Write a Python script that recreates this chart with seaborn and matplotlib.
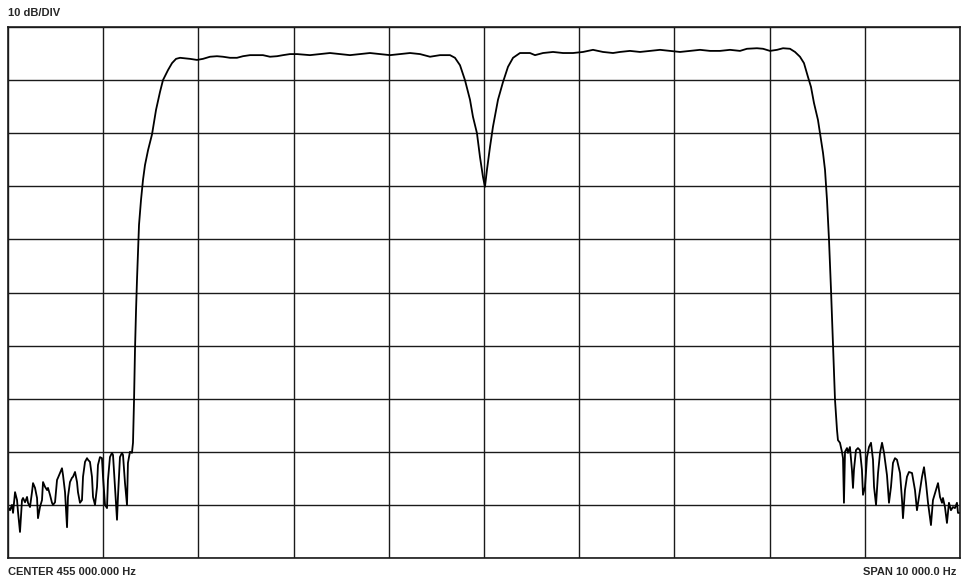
import matplotlib
matplotlib.use("Agg")
import matplotlib.pyplot as plt
import seaborn as sns
import pandas as pd

# Frequency (Hz) and level (dB)
freq_hz = [
    450000, 450021, 450042, 450053, 450074, 450095, 450105, 450126, 450147, 450158,
    450179, 450200, 450210, 450231, 450252, 450263, 450284, 450305, 450315, 450336,
    450357, 450368, 450389, 450410, 450420, 450441, 450462, 450473, 450494, 450515,
    450525, 450546, 450567, 450578, 450599, 450620, 450630, 450651, 450672, 450683,
    450704, 450725, 450735, 450756, 450777, 450788, 450809, 450830, 450840, 450861,
    450882, 450893, 450914, 450935, 450945, 450966, 450987, 450998, 451019, 451040,
    451050, 451071, 451092, 451103, 451124, 451145, 451155, 451176, 451197, 451208,
    451229, 451250, 451260, 451281, 451302, 451313,
    451324, 451334, 451345, 451355, 451366, 451376, 451397, 451418, 451439, 451471,
    451513, 451555, 451597, 451628, 451681, 451723, 451765, 451807,
    451912, 451985, 452048, 452122, 452195, 452258, 452332, 452405, 452468, 452542,
    452615, 452678, 452752, 452826, 452889, 452962, 453036,
    453172, 453277, 453382, 453487, 453592, 453697, 453802, 453907, 454013, 454118,
    454223, 454328, 454433, 454538, 454643, 454695, 454748, 454800, 454853, 454884,
    454926, 454958, 454989, 455010, 455031, 455063, 455094, 455147, 455199, 455252,
    455305, 455378, 455483, 455536, 455620, 455725, 455830, 455935, 456040, 456145,
    456250, 456355, 456428,
    456533, 456639, 456744, 456849, 456954, 457059, 457164, 457269, 457374, 457479,
    457584, 457689, 457762, 457867, 457931, 458004, 458078, 458141, 458214, 458267,
    458319, 458361, 458403, 458435, 458466, 458508, 458529, 458561, 458582, 458603,
    458624, 458645, 458666, 458687, 458708, 458718,
    458739, 458760, 458771, 458781, 458792, 458813, 458823, 458844, 458865, 458876,
    458886, 458907, 458928, 458949, 458970, 458981, 459002, 459023, 459044, 459065,
    459086, 459097, 459118, 459139, 459160, 459181, 459202, 459233, 459254, 459275,
    459296, 459317, 459338, 459370, 459391, 459401, 459422, 459443, 459464, 459496,
    459527, 459548, 459569, 459601, 459622, 459643, 459664, 459695, 459716, 459748,
    459769, 459790, 459811, 459821, 459842, 459863, 459884, 459905, 459926, 459947,
    459968, 459979, 460000,
]
level_db = [
    -90.4, -91.0, -90.0, -91.5, -87.6, -89.1, -91.3, -95.1, -89.1, -88.7,
    -89.5, -88.5, -89.6, -90.4, -87.6, -85.9, -86.8, -88.7, -92.5, -90.4,
    -89.1, -85.7, -86.6, -87.2, -86.8, -88.1, -89.6, -90.0, -89.5, -85.3,
    -84.9, -84.0, -83.1, -84.4, -87.6, -94.2, -88.5, -85.7, -84.9, -84.7,
    -83.8, -85.7, -87.6, -89.6, -89.1, -84.7, -81.9, -81.2, -81.5, -81.9,
    -84.7, -88.5, -90.0, -86.6, -82.5, -81.0, -81.2, -84.7, -90.0, -90.6,
    -85.3, -81.0, -80.2, -80.6, -86.6, -92.8, -88.5, -81.0, -80.2, -80.6,
    -85.9, -90.0, -82.1, -80.0, -80.2, -78.3,
    -70.2, -60.8, -53.3, -47.6, -42.0, -37.3, -32.6, -28.8, -26.0, -23.2,
    -20.2, -15.6, -12.2, -10.0, -8.1, -6.8, -6.0, -5.8,
    -6.0, -6.2, -6.0, -5.6, -5.5, -5.6, -5.8, -5.8, -5.5, -5.3,
    -5.3, -5.3, -5.6, -5.5, -5.3, -5.1, -5.1,
    -5.3, -5.1, -4.9, -5.1, -5.3, -5.1, -4.9, -5.1, -5.3, -5.1,
    -4.9, -5.1, -5.6, -5.3, -5.3, -5.8, -7.2, -10.0, -13.7, -16.9,
    -20.0, -24.5, -28.2, -30.1, -26.9, -22.6, -18.8, -13.7, -10.4, -7.5,
    -5.8, -4.9, -4.9, -5.3, -4.9, -4.7, -4.9, -4.9, -4.7, -4.3,
    -4.7, -4.9, -4.7,
    -4.5, -4.7, -4.5, -4.3, -4.5, -4.7, -4.5, -4.3, -4.5, -4.5,
    -4.3, -4.5, -4.1, -4.0, -4.1, -4.5, -4.3, -4.0, -4.1, -4.7,
    -5.6, -6.8, -9.4, -11.3, -14.3, -17.5, -20.0, -23.7, -26.9, -32.6,
    -40.1, -49.5, -60.1, -70.2, -75.9, -77.8,
    -78.3, -80.0, -81.2, -89.6, -80.0, -79.3, -80.2, -79.1, -83.4, -86.8,
    -83.4, -79.7, -79.3, -79.7, -83.4, -88.1, -86.6, -81.0, -79.1, -78.3,
    -81.5, -86.6, -90.0, -84.0, -80.2, -78.3, -80.2, -84.4, -89.6, -86.6,
    -82.1, -81.2, -81.5, -84.0, -89.1, -92.5, -87.2, -84.7, -83.8, -84.0,
    -87.2, -91.0, -88.5, -84.7, -82.9, -85.9, -89.6, -93.8, -89.1, -87.2,
    -85.9, -88.5, -89.6, -88.7, -90.4, -93.4, -89.6, -91.0, -90.4, -90.6,
    -89.6, -91.5, -91.5,
]

freq_ticks = [450000 + 1000 * i for i in range(11)]
level_ticks = [-100 + 10 * i for i in range(11)]

title_left = "10 dB/DIV"
label_center = "CENTER 455 000.000 Hz"
label_span = "SPAN 10 000.0 Hz"

sns.set_style("white")
plt.rcParams["font.family"] = ["Liberation Sans", "DejaVu Sans"]

fig = plt.figure(figsize=(9.61, 5.83), dpi=100)
ax = fig.add_axes([8 / 961, 25 / 583, 952 / 961, 531 / 583])

df = pd.DataFrame({"freq": freq_hz, "level": level_db})
sns.lineplot(data=df, x="freq", y="level", sort=False, estimator=None,
             color="black", linewidth=1.3, ax=ax)

ax.set_xlim(freq_ticks[0], freq_ticks[-1])
ax.set_ylim(level_ticks[0], level_ticks[-1])
ax.set_xticks(freq_ticks)
ax.set_yticks(level_ticks)
ax.set_xticklabels([])
ax.set_yticklabels([])
ax.tick_params(length=0)
ax.set_xlabel("")
ax.set_ylabel("")
ax.grid(True, color="#1a1a1a", linewidth=1.0)
ax.set_axisbelow(True)
for sp in ax.spines.values():
    sp.set_visible(True)
    sp.set_color("#1a1a1a")
    sp.set_linewidth(1.2)

fig.text(8 / 961, 1 - 13 / 583, title_left, fontsize=8, fontweight="bold",
         ha="left", va="center")
fig.text(8 / 961, 1 - 572 / 583, label_center, fontsize=8, fontweight="bold",
         ha="left", va="center")
fig.text(956 / 961, 1 - 572 / 583, label_span, fontsize=8, fontweight="bold",
         ha="right", va="center")

fig.savefig("out.png", dpi=100)
